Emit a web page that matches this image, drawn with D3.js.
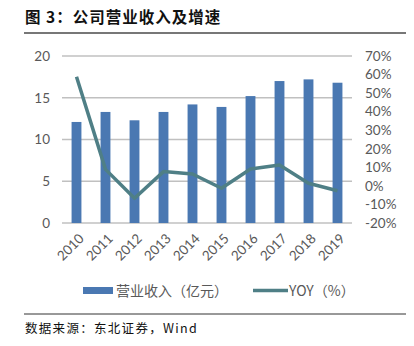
<!DOCTYPE html>
<html>
<head>
<meta charset="utf-8">
<script src="https://cdn.jsdelivr.net/npm/d3@7"></script>
<style>
  html, body { margin: 0; padding: 0; background: #fff; }
  svg { display: block; }
</style>
</head>
<body>
<script>
// Annual revenue (100m CNY) and year-on-year growth (%)
const years = ["2010", "2011", "2012", "2013", "2014", "2015", "2016", "2017", "2018", "2019"];
const revenue = [12.1, 13.3, 12.3, 13.3, 14.2, 13.9, 15.2, 17.0, 17.2, 16.8];
const yoy = [58.8, 8.9, -6.7, 7.7, 6.4, -1.3, 9.1, 11.3, 1.4, -2.6];
const leftTicks = [0, 5, 10, 15, 20];
const rightTicks = [-20, -10, 0, 10, 20, 30, 40, 50, 60, 70];

const W = 414, H = 346;
const plot = { left: 62, right: 352, top: 56, bottom: 223 };
const barColor = "#4a78b2";
const lineColor = "#4f7f86";
const textColor = "#595959";
const tickFont = "Lato, 'Open Sans', sans-serif";
const cjkFont = "'Noto Sans CJK SC', sans-serif";

const svg = d3.select("body").append("svg").attr("width", W).attr("height", H);

// Title and rule
svg.append("text")
  .attr("x", 25).attr("y", 23)
  .attr("font-family", cjkFont)
  .attr("font-weight", "bold")
  .attr("font-size", 15.5)
  .attr("letter-spacing", 1)
  .attr("fill", "#111")
  .text("图\u00a03：公司营业收入及增速");
svg.append("line")
  .attr("x1", 24).attr("x2", 406).attr("y1", 33).attr("y2", 33)
  .attr("stroke", "#777").attr("stroke-width", 2);

const x = d3.scaleBand().domain(years).range([plot.left, plot.right]).paddingInner(0.66).paddingOuter(0.33);
const yL = d3.scaleLinear().domain([0, 20]).range([plot.bottom, plot.top]);
const yR = d3.scaleLinear().domain([-20, 70]).range([plot.bottom, plot.top]);

// Gridlines
svg.append("g").selectAll("line").data(leftTicks).join("line")
  .attr("x1", plot.left).attr("x2", plot.right)
  .attr("y1", d => yL(d)).attr("y2", d => yL(d))
  .attr("stroke", "#c0c0c0").attr("stroke-width", 1.5);

// Left axis
const axL = svg.append("g").attr("transform", `translate(${plot.left},0)`)
  .call(d3.axisLeft(yL).tickValues(leftTicks).tickSize(0).tickPadding(12));
axL.select(".domain").remove();
axL.selectAll("text").attr("font-family", tickFont).attr("font-size", 13.5).attr("fill", textColor);

// Right axis
const axR = svg.append("g").attr("transform", `translate(${plot.right},0)`)
  .call(d3.axisRight(yR).tickValues(rightTicks).tickSize(0).tickPadding(13).tickFormat(d => d + "%"));
axR.select(".domain").remove();
axR.selectAll("text").attr("font-family", tickFont).attr("font-size", 13.5).attr("fill", textColor);

// Bars
svg.append("g").selectAll("rect").data(revenue).join("rect")
  .attr("x", (d, i) => x(years[i]))
  .attr("width", x.bandwidth())
  .attr("y", d => yL(d))
  .attr("height", d => yL(0) - yL(d))
  .attr("fill", barColor);

// Growth line
const line = d3.line()
  .x((d, i) => x(years[i]) + x.bandwidth() / 2)
  .y(d => yR(d));
svg.append("path").datum(yoy)
  .attr("d", line)
  .attr("fill", "none")
  .attr("stroke", lineColor)
  .attr("stroke-width", 3.5)
  .attr("stroke-linejoin", "round");

// Category labels, rotated
svg.append("g").selectAll("text").data(years).join("text")
  .attr("transform", d => `translate(${x(d) + x.bandwidth() / 2 + 5},${plot.bottom + 13}) rotate(-45)`)
  .attr("text-anchor", "end")
  .attr("dy", "0.35em")
  .attr("font-family", tickFont).attr("font-size", 13.5).attr("fill", textColor)
  .text(d => d);

// Legend
const lg = svg.append("g");
lg.append("rect").attr("x", 83).attr("y", 287).attr("width", 30).attr("height", 7).attr("fill", barColor);
lg.append("text").attr("x", 116).attr("y", 296)
  .attr("font-family", cjkFont).attr("font-size", 14).attr("fill", textColor)
  .text("营业收入（亿元）");
lg.append("line").attr("x1", 253).attr("x2", 288).attr("y1", 290.5).attr("y2", 290.5)
  .attr("stroke", lineColor).attr("stroke-width", 3.5);
lg.append("text").attr("x", 289).attr("y", 296)
  .attr("font-family", cjkFont).attr("font-size", 14).attr("fill", textColor)
  .text("YOY（%）");

// Source rule and note
svg.append("line")
  .attr("x1", 24).attr("x2", 406).attr("y1", 314).attr("y2", 314)
  .attr("stroke", "#333").attr("stroke-width", 1);
svg.append("text")
  .attr("x", 25).attr("y", 333)
  .attr("font-family", cjkFont)
  .attr("font-size", 12.5)
  .attr("letter-spacing", 1.3)
  .attr("fill", "#111")
  .text("数据来源：东北证券，Wind");
</script>
</body>
</html>
